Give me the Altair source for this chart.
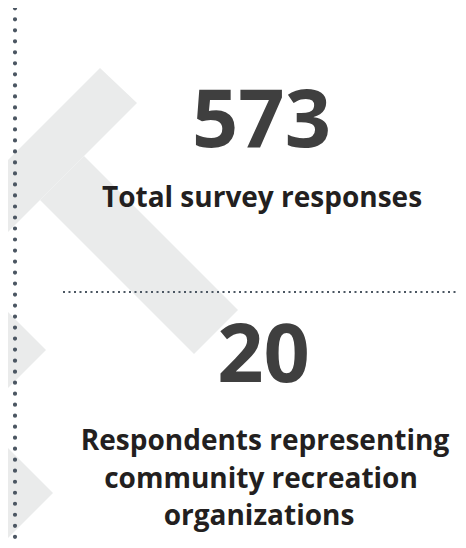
import altair as alt
import pandas as pd

# ---- content -------------------------------------------------------------
stat_values = ["573", "20"]
stat_labels = [
    ["Total survey responses"],
    ["Respondents representing", "community recreation", "organizations"],
]

# ---- layout (page pixel coordinates) -------------------------------------
stat_center_x = [261.5, 263.5]
stat_baseline = [147, 382]
label_center_x = [[262], [265, 261, 259]]
label_baseline = [[207], [450, 487.5, 525]]

# decorative background shapes (vertices in page pixels)
armA_x, armA_top, armA_bottom = [-20, 100, 137], [188, 68, 103], [260, 140, 103]
armB_x, armB_top, armB_bottom = [40, 84, 194, 238], [200, 156, 266, 310], [200, 244, 354, 310]
tri1_x, tri1_top, tri1_bottom = [-10, 46], [294, 350], [406, 350]
tri2_x, tri2_top, tri2_bottom = [-10, 53], [430, 493], [556, 493]

vline_x, vline_y0, vline_y1 = [15], [8.3], [560]
hline_x0, hline_x1, hline_y = [63], [461], [292]

# ---- frame ---------------------------------------------------------------
X0, X1, Y0, Y1 = 8, 458, 8, 540
W, H = X1 - X0, Y1 - Y0
xs = alt.Scale(domain=[X0, X1], nice=False, zero=False)
ys = alt.Scale(domain=[Y0, Y1], nice=False, zero=False, reverse=True)

GRAY = "#eaebeb"
DOT = "#4b5662"
NUM = "#3f3f3f"
TXT = "#231f20"
FONT = "Open Sans"


def band(xv, tv, bv):
    df = pd.DataFrame({"px": xv, "ptop": tv, "pbot": bv})
    return alt.Chart(df).mark_area(color=GRAY, clip=True, opacity=1).encode(
        x=alt.X("px:Q", scale=xs, axis=None),
        y=alt.Y("ptop:Q", scale=ys, axis=None),
        y2="pbot:Q",
    )


shapes = [band(armA_x, armA_top, armA_bottom),
          band(armB_x, armB_top, armB_bottom),
          band(tri1_x, tri1_top, tri1_bottom),
          band(tri2_x, tri2_top, tri2_bottom)]

vdf = pd.DataFrame({"x": vline_x, "y": vline_y0, "y2": vline_y1})
vline = alt.Chart(vdf).mark_rule(
    color=DOT, strokeWidth=4.2, strokeDash=[0.01, 11], strokeCap="round", clip=True
).encode(
    x=alt.X("x:Q", scale=xs, axis=None),
    y=alt.Y("y:Q", scale=ys, axis=None),
    y2="y2:Q",
)

hdf = pd.DataFrame({"x": hline_x0, "x2": hline_x1, "y": hline_y})
hline = alt.Chart(hdf).mark_rule(
    color=DOT, strokeWidth=2, strokeDash=[2, 3.5], strokeCap="butt", clip=True
).encode(
    x=alt.X("x:Q", scale=xs, axis=None),
    x2="x2:Q",
    y=alt.Y("y:Q", scale=ys, axis=None),
)

ndf = pd.DataFrame({"t": stat_values, "x": stat_center_x, "y": stat_baseline})
numbers = alt.Chart(ndf).mark_text(
    font=FONT, fontWeight="bold", fontSize=81, color=NUM,
    align="center", baseline="alphabetic",
).encode(
    x=alt.X("x:Q", scale=xs, axis=None),
    y=alt.Y("y:Q", scale=ys, axis=None),
    text="t:N",
)

rows = []
for lines, cxs, bys in zip(stat_labels, label_center_x, label_baseline):
    for t, cx, by in zip(lines, cxs, bys):
        rows.append({"t": t, "x": cx, "y": by})
ldf = pd.DataFrame(rows)
labels = alt.Chart(ldf).mark_text(
    font=FONT, fontWeight="bold", fontSize=28, color=TXT,
    align="center", baseline="alphabetic",
).encode(
    x=alt.X("x:Q", scale=xs, axis=None),
    y=alt.Y("y:Q", scale=ys, axis=None),
    text="t:N",
)

chart = alt.layer(*shapes, vline, hline, numbers, labels).properties(
    width=W, height=H, padding=0,
    autosize=alt.AutoSizeParams(type="none"),
    background="white",
).configure_view(stroke=None)

chart.save("out.html", embed_options={"renderer": "svg", "actions": False})
